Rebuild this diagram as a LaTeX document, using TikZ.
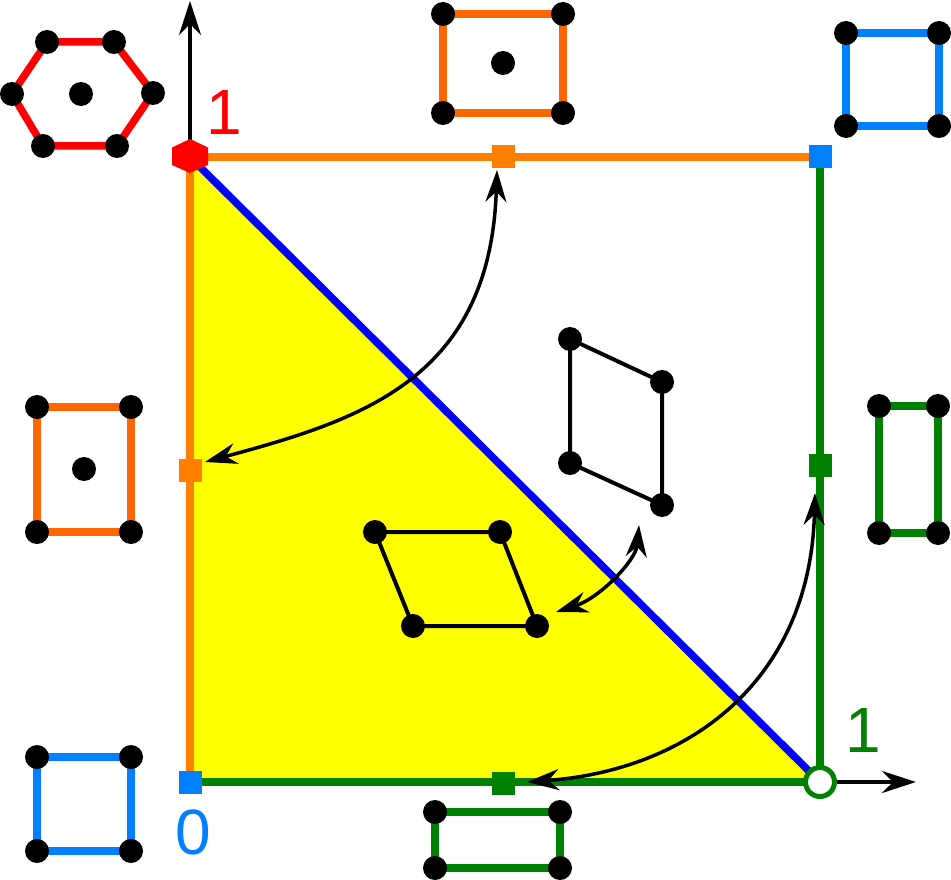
\documentclass[tikz,border=0pt]{standalone}
\usepackage{fontspec}
\setmainfont{Liberation Sans}
\usetikzlibrary{arrows.meta}
\definecolor{edgeor}{HTML}{FF8000}
\definecolor{iconor}{HTML}{FF6600}
\definecolor{myblue}{HTML}{0080FF}
\definecolor{mygreen}{HTML}{008000}
\definecolor{diagblue}{HTML}{0000FF}
\definecolor{myyellow}{HTML}{FFFF00}
\definecolor{myred}{HTML}{FF0000}
\begin{document}
\begin{tikzpicture}[x=1pt,y=-1pt,
  dot/.style={circle,fill=black,inner sep=0pt,minimum size=24pt},
  mk/.style={rectangle,inner sep=0pt,minimum size=23pt},
  edge/.style={line width=7.5pt},
  icon/.style={line width=7.5pt,line join=round},
  para/.style={line width=4pt,line join=round},
  big/.style={font=\fontsize{64}{64}\selectfont,inner sep=0pt}
]
\useasboundingbox (0,0) rectangle (951,880);
% corners
\coordinate (TL) at (190,157);
\coordinate (TR) at (820,157);
\coordinate (BR) at (820,782);
\coordinate (BL) at (190,782);
% yellow region
\fill[myyellow] (TL) -- (BL) -- (BR) -- cycle;
% edges
\draw[edge,edgeor] (TL) -- (TR);
\draw[edge,edgeor] (TL) -- (BL);
\draw[edge,mygreen] (TR) -- (BR);
\draw[edge,mygreen] (BL) -- (BR);
\draw[edge,diagblue] (TL) -- (BR);
% axes
\coordinate (yend) at (190,1);
\coordinate (xend) at (916,782);
\draw[line width=3.5pt,-{Stealth[length=34pt,width=22pt]}] (190,150) -- (yend);
\draw[line width=3.5pt,-{Stealth[length=34pt,width=22pt]}] (834,782) -- (xend);
% markers
\fill[myred] (190,139) -- (208,147.5) -- (208,165) -- (190,173) -- (172,165) -- (172,147.5) -- cycle;
\node[mk,fill=edgeor] (oT) at (503,157) {};
\node[mk,fill=edgeor] (oL) at (190,470) {};
\node[mk,fill=myblue] (bTR) at (TR) {};
\node[mk,fill=myblue] (bBL) at (BL) {};
\node[mk,fill=mygreen] (gR) at (820,465) {};
\node[mk,fill=mygreen] (gB) at (503,783) {};
\node[circle,draw=mygreen,fill=white,line width=5pt,minimum size=29pt,inner sep=0pt] (gC) at (BR) {};
% labels
\node[big,text=myred] (l1) at (224,112) {1};
\node[big,text=mygreen] (l2) at (863,730) {1};
\node[big,text=myblue] (l0) at (193,832) {0};
% hexagon icon
\draw[icon,myred] (47,42) -- (114,42) -- (153,93) -- (117,146) -- (43,146) -- (12,94) -- cycle;
\foreach \p/\n in {{(47,42)}/h1,{(114,42)}/h2,{(153,93)}/h3,{(117,146)}/h4,{(43,146)}/h5,{(12,94)}/h6,{(81,94)}/h7}
  \node[dot] (\n) at \p {};
% top orange icon
\draw[icon,iconor] (443,14) rectangle (563,113);
\foreach \p/\n in {{(443,14)}/t1,{(563,14)}/t2,{(443,113)}/t3,{(563,113)}/t4,{(503,63)}/t5}
  \node[dot] (\n) at \p {};
% top-right blue icon
\draw[icon,myblue] (846,33) rectangle (939,126);
\foreach \p/\n in {{(846,33)}/r1,{(939,33)}/r2,{(846,126)}/r3,{(939,126)}/r4}
  \node[dot] (\n) at \p {};
% left orange icon
\draw[icon,iconor] (37,407) rectangle (131,532);
\foreach \p/\n in {{(37,407)}/L1,{(131,407)}/L2,{(37,532)}/L3,{(131,532)}/L4,{(84,469)}/L5}
  \node[dot] (\n) at \p {};
% right green icon
\draw[icon,mygreen] (879,406) rectangle (938,533);
\foreach \p/\n in {{(879,406)}/R1,{(938,406)}/R2,{(879,533)}/R3,{(938,533)}/R4}
  \node[dot] (\n) at \p {};
% bottom-left blue icon
\draw[icon,myblue] (37,757) rectangle (131,851);
\foreach \p/\n in {{(37,757)}/B1,{(131,757)}/B2,{(37,851)}/B3,{(131,851)}/B4}
  \node[dot] (\n) at \p {};
% bottom green icon
\draw[icon,mygreen] (435,812) rectangle (560,868);
\foreach \p/\n in {{(435,812)}/G1,{(560,812)}/G2,{(435,868)}/G3,{(560,868)}/G4}
  \node[dot] (\n) at \p {};
% parallelograms
\draw[para] (570,339) -- (662,382) -- (662,505) -- (570,463) -- cycle;
\foreach \p/\n in {{(570,339)}/P1,{(662,382)}/P2,{(662,505)}/P3,{(570,463)}/P4}
  \node[dot] (\n) at \p {};
\draw[para] (375,532) -- (500,532) -- (537,626) -- (413,626) -- cycle;
\foreach \p/\n in {{(375,532)}/Q1,{(500,532)}/Q2,{(537,626)}/Q3,{(413,626)}/Q4}
  \node[dot] (\n) at \p {};
% curved double arrows
\coordinate (a1s) at (497,170);
\coordinate (a1e) at (205,462);
\draw[line width=3.5pt,{Stealth[length=32pt,width=21pt]}-{Stealth[length=32pt,width=21pt]}] (a1s) .. controls (490,380) and (360,420) .. (a1e);
\coordinate (a2s) at (639,525);
\coordinate (a2e) at (556,612);
\draw[line width=3.5pt,{Stealth[length=32pt,width=21pt]}-{Stealth[length=32pt,width=21pt]}] (a2s) .. controls (636,560) and (600,598) .. (a2e);
\coordinate (a3s) at (815,493);
\coordinate (a3e) at (527,782);
\draw[line width=3.5pt,{Stealth[length=32pt,width=21pt]}-{Stealth[length=32pt,width=21pt]}] (a3s) .. controls (810,680) and (690,770) .. (a3e);
\end{tikzpicture}
\end{document}
